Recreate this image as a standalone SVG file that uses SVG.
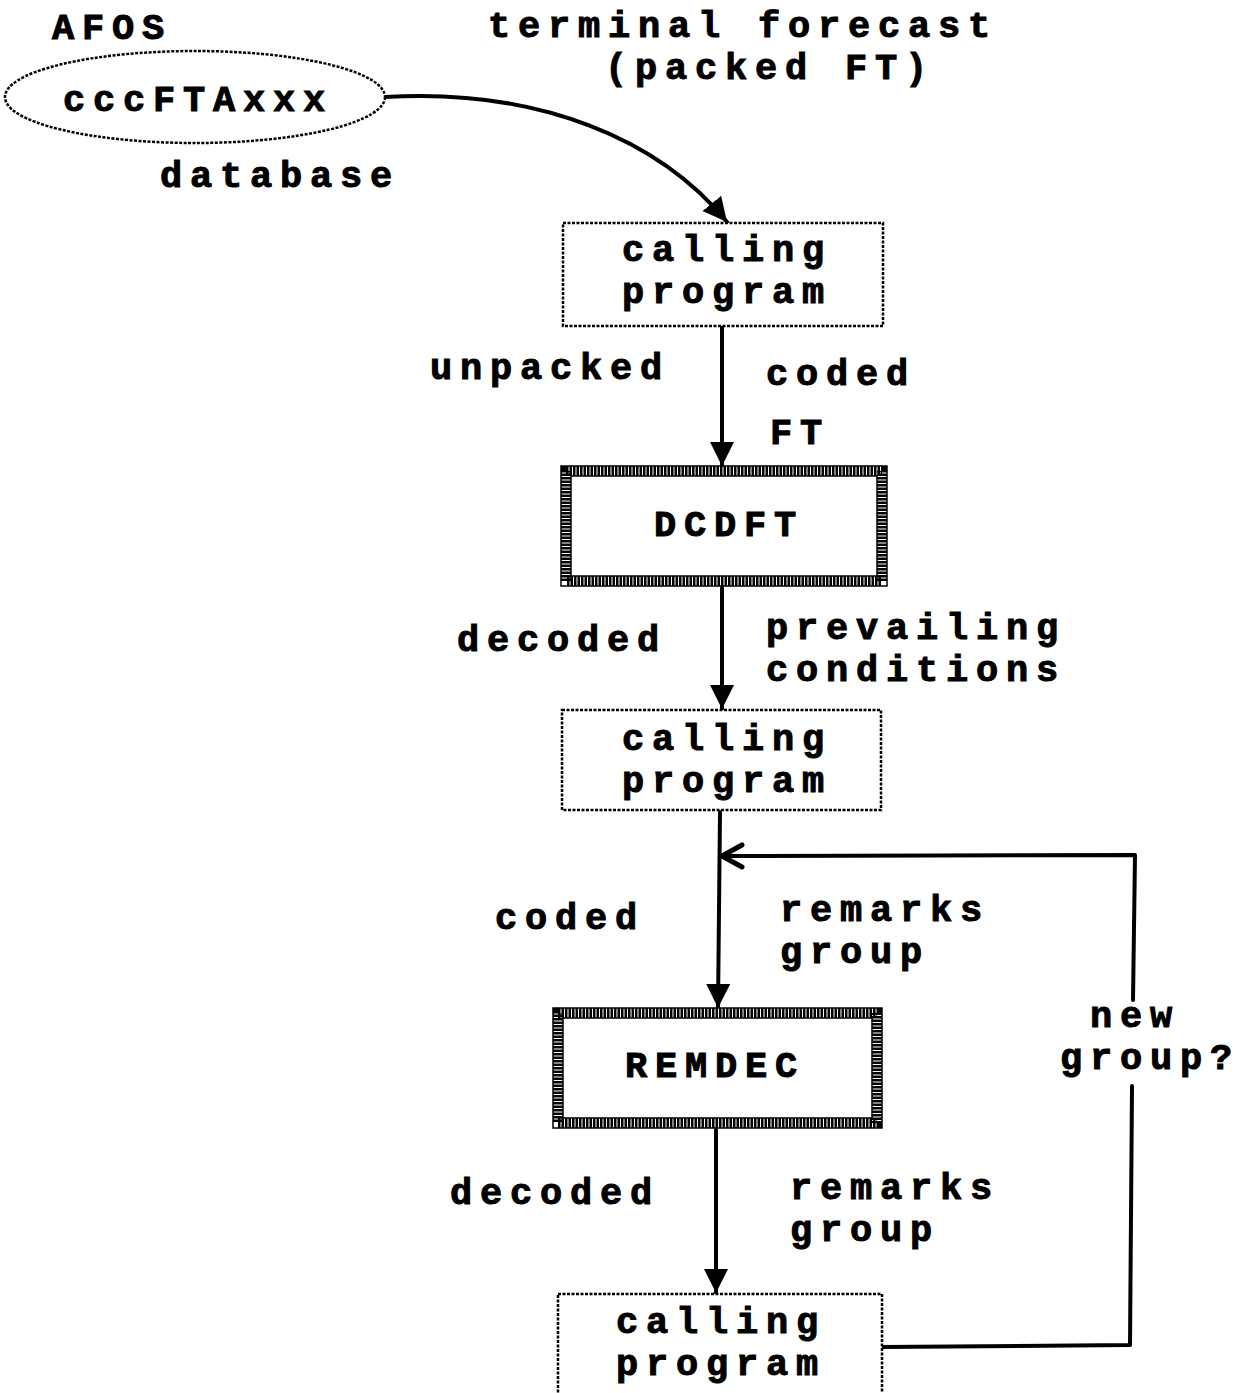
<svg xmlns="http://www.w3.org/2000/svg" width="1244" height="1393" viewBox="0 0 1244 1393">
<style>
text{font-family:"Liberation Mono","DejaVu Sans Mono",monospace;font-weight:bold;font-size:37px;letter-spacing:7.8px;fill:#000;stroke:#000;stroke-width:1}
.dot{fill:#fff;stroke:#000;stroke-width:2.5;stroke-dasharray:3 1.5}
.hatch{fill:none;stroke:#000;stroke-width:10;stroke-dasharray:2.5 1}
.thin{fill:none;stroke:#000;stroke-width:1.5}
.ln{fill:none;stroke:#000;stroke-width:4;stroke-linecap:round;stroke-linejoin:round}
</style>
<defs>
<marker id="ah" markerUnits="userSpaceOnUse" markerWidth="28" markerHeight="28" refX="24" refY="12" orient="auto" viewBox="0 0 28 24">
<path d="M0,0 L24,12 L0,24 Z" fill="#000"/>
</marker>
<marker id="open" markerUnits="userSpaceOnUse" markerWidth="30" markerHeight="30" refX="26" refY="14" orient="auto" viewBox="0 0 30 28">
<path d="M6,3 L26,14 L6,25" fill="none" stroke="#000" stroke-width="5" stroke-linecap="round" stroke-linejoin="round"/>
</marker>
</defs>
<rect width="1244" height="1393" fill="#fff"/>

<g id="connectors">
<path class="ln" d="M385,97 C540,88 660,140 727,222" marker-end="url(#ah)"/>
<path class="ln" d="M722,326 L722,466" marker-end="url(#ah)"/>
<path class="ln" d="M722,588 L722,709" marker-end="url(#ah)"/>
<path class="ln" d="M720,812 L718,1008" marker-end="url(#ah)"/>
<path class="ln" d="M716,1130 L716,1293" marker-end="url(#ah)"/>
<path class="ln" d="M882,1347 L1130,1345 L1132,1086"/>
<path class="ln" d="M1133,1000 L1135,855 L722,856" marker-end="url(#open)"/>
</g>

<g id="afos">
<ellipse class="dot" cx="195" cy="97" rx="190" ry="46"/>
<text x="63" y="111">cccFTAxxx</text>
<text x="52" y="39">AFOS</text>
<text x="160" y="187">database</text>
</g>

<g id="title">
<text x="488" y="37">terminal forecast</text>
<text x="605" y="79">(packed FT)</text>
</g>

<g id="call1">
<rect class="dot" x="563" y="223" width="320" height="103"/>
<text x="622" y="261">calling</text>
<text x="622" y="303">program</text>
</g>

<g id="dcdft">
<rect x="561" y="466" width="326" height="120" fill="#fff"/>
<rect class="hatch" x="566" y="471" width="316" height="110"/>
<rect class="thin" x="561" y="466" width="326" height="120"/>
<rect class="thin" x="571" y="476" width="306" height="100"/>
<text x="654" y="536">DCDFT</text>
</g>

<g id="call2">
<rect class="dot" x="562" y="710" width="319" height="100"/>
<text x="622" y="750">calling</text>
<text x="622" y="792">program</text>
</g>

<g id="remdec">
<rect x="553" y="1008" width="329" height="120" fill="#fff"/>
<rect class="hatch" x="558" y="1013" width="319" height="110"/>
<rect class="thin" x="553" y="1008" width="329" height="120"/>
<rect class="thin" x="563" y="1018" width="309" height="100"/>
<text x="625" y="1077">REMDEC</text>
</g>

<g id="call3">
<rect class="dot" x="558" y="1294" width="324" height="110"/>
<text x="616" y="1333">calling</text>
<text x="616" y="1375">program</text>
</g>

<g id="labels">
<text x="430" y="379">unpacked</text>
<text x="766" y="385">coded</text>
<text x="770" y="444">FT</text>
<text x="457" y="651">decoded</text>
<text x="766" y="639">prevailing</text>
<text x="766" y="681">conditions</text>
<text x="495" y="929">coded</text>
<text x="780" y="921">remarks</text>
<text x="780" y="963">group</text>
<text x="1090" y="1027">new</text>
<text x="1060" y="1069">group?</text>
<text x="450" y="1204">decoded</text>
<text x="790" y="1199">remarks</text>
<text x="790" y="1241">group</text>
</g>
</svg>
